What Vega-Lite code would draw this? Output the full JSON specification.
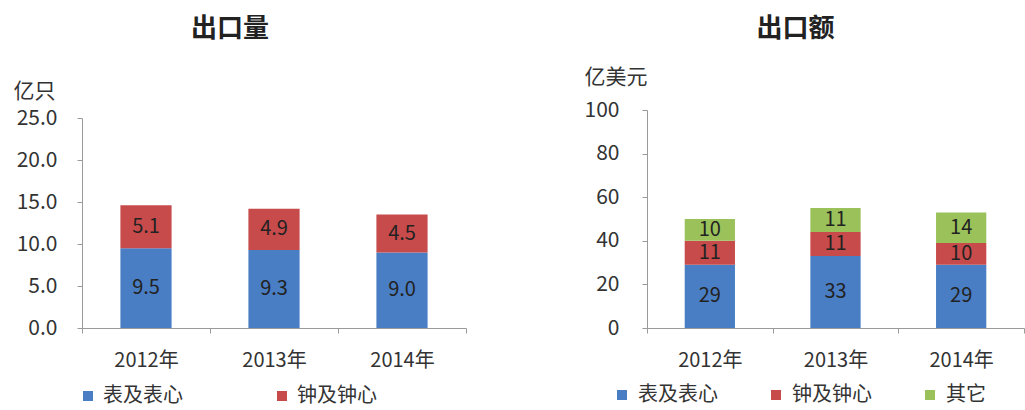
{
  "$schema": "https://vega.github.io/schema/vega-lite/v6.json",
  "padding": {"left": 13, "top": 16, "right": 0, "bottom": 0},
  "background": "white",
  "config": {
    "font": "Noto Sans CJK SC",
    "view": {"stroke": null},
    "concat": {"spacing": 117},
    "axis": {"domainColor": "#9a9a9a", "tickColor": "#9a9a9a", "labelColor": "#333333", "titleColor": "#333333", "grid": false}
  },
  "resolve": {"scale": {"color": "independent", "y": "independent"}, "legend": {"color": "independent"}},
  "hconcat": [
    {
      "width": 384,
      "height": 218,
      "title": {"text": "出口量", "fontSize": 26, "fontWeight": "bold", "color": "#222222", "dx": -44, "offset": 38},
      "data": {"values": [
        {"year": "2012年", "series": "表及表心", "rank": 1, "value": 9.5},
        {"year": "2012年", "series": "钟及钟心", "rank": 2, "value": 5.1},
        {"year": "2013年", "series": "表及表心", "rank": 1, "value": 9.3},
        {"year": "2013年", "series": "钟及钟心", "rank": 2, "value": 4.9},
        {"year": "2014年", "series": "表及表心", "rank": 1, "value": 9.0},
        {"year": "2014年", "series": "钟及钟心", "rank": 2, "value": 4.5}
      ]},
      "encoding": {
        "x": {"field": "year", "type": "nominal", "sort": null,
          "scale": {"paddingInner": 0, "paddingOuter": 0},
          "axis": {"title": null, "labelAngle": 0, "tickBand": "extent", "tickSize": 5, "labelPadding": 17, "labelFontSize": 20}},
        "y": {"field": "value", "type": "quantitative", "stack": "zero",
          "scale": {"domain": [0, 25], "range": [218, 8]},
          "axis": {"title": "亿只", "titleAngle": 0, "titleX": -69, "titleY": -19, "titleAlign": "left", "titleBaseline": "middle", "titleFontSize": 21, "titleFontWeight": "normal",
            "values": [0, 5, 10, 15, 20, 25], "format": ".1f", "tickSize": 5, "labelPadding": 20, "labelFontSize": 21}},
        "order": {"field": "rank", "type": "quantitative"}
      },
      "layer": [
        {
          "mark": {"type": "bar", "width": {"band": 0.4}},
          "encoding": {
            "color": {"field": "series", "type": "nominal",
              "scale": {"domain": ["表及表心", "钟及钟心"], "range": ["#4a7ec4", "#c84b4c"]},
              "legend": {"title": null, "orient": "none", "direction": "horizontal", "legendX": -4, "legendY": 276,
                "symbolType": "square", "symbolSize": 100, "symbolStrokeWidth": 0, "labelFontSize": 20, "labelOffset": 5, "columnPadding": 89, "labelColor": "#333333"}}
          }
        },
        {
          "mark": {"type": "text", "fontSize": 20, "color": "#222222"},
          "encoding": {
            "y": {"field": "value", "type": "quantitative", "stack": "zero", "bandPosition": 0.5},
            "text": {"field": "value", "type": "quantitative", "format": ".1f"}
          }
        }
      ]
    },
    {
      "width": 377,
      "height": 218,
      "title": {"text": "出口额", "fontSize": 26, "fontWeight": "bold", "color": "#222222", "dx": -40, "offset": 24},
      "data": {"values": [
        {"year": "2012年", "series": "表及表心", "rank": 1, "value": 29},
        {"year": "2012年", "series": "钟及钟心", "rank": 2, "value": 11},
        {"year": "2012年", "series": "其它", "rank": 3, "value": 10},
        {"year": "2013年", "series": "表及表心", "rank": 1, "value": 33},
        {"year": "2013年", "series": "钟及钟心", "rank": 2, "value": 11},
        {"year": "2013年", "series": "其它", "rank": 3, "value": 11},
        {"year": "2014年", "series": "表及表心", "rank": 1, "value": 29},
        {"year": "2014年", "series": "钟及钟心", "rank": 2, "value": 10},
        {"year": "2014年", "series": "其它", "rank": 3, "value": 14}
      ]},
      "encoding": {
        "x": {"field": "year", "type": "nominal", "sort": null,
          "scale": {"paddingInner": 0, "paddingOuter": 0},
          "axis": {"title": null, "labelAngle": 0, "tickBand": "extent", "tickSize": 5, "labelPadding": 17, "labelFontSize": 20}},
        "y": {"field": "value", "type": "quantitative", "stack": "zero",
          "scale": {"domain": [0, 100]},
          "axis": {"title": "亿美元", "titleAngle": 0, "titleX": -63, "titleY": -33, "titleAlign": "left", "titleBaseline": "middle", "titleFontSize": 21, "titleFontWeight": "normal",
            "values": [0, 20, 40, 60, 80, 100], "tickSize": 5, "labelPadding": 23, "labelFontSize": 21}},
        "order": {"field": "rank", "type": "quantitative"}
      },
      "layer": [
        {
          "mark": {"type": "bar", "width": {"band": 0.4}},
          "encoding": {
            "color": {"field": "series", "type": "nominal",
              "scale": {"domain": ["表及表心", "钟及钟心", "其它"], "range": ["#4a7ec4", "#c84b4c", "#9bc25a"]},
              "legend": {"title": null, "orient": "none", "direction": "horizontal", "legendX": -35, "legendY": 275,
                "symbolType": "square", "symbolSize": 100, "symbolStrokeWidth": 0, "labelFontSize": 20, "labelOffset": 6, "columnPadding": 48, "labelColor": "#333333"}}
          }
        },
        {
          "mark": {"type": "text", "fontSize": 20, "color": "#222222"},
          "encoding": {
            "y": {"field": "value", "type": "quantitative", "stack": "zero", "bandPosition": 0.5},
            "text": {"field": "value", "type": "quantitative"}
          }
        }
      ]
    }
  ]
}
